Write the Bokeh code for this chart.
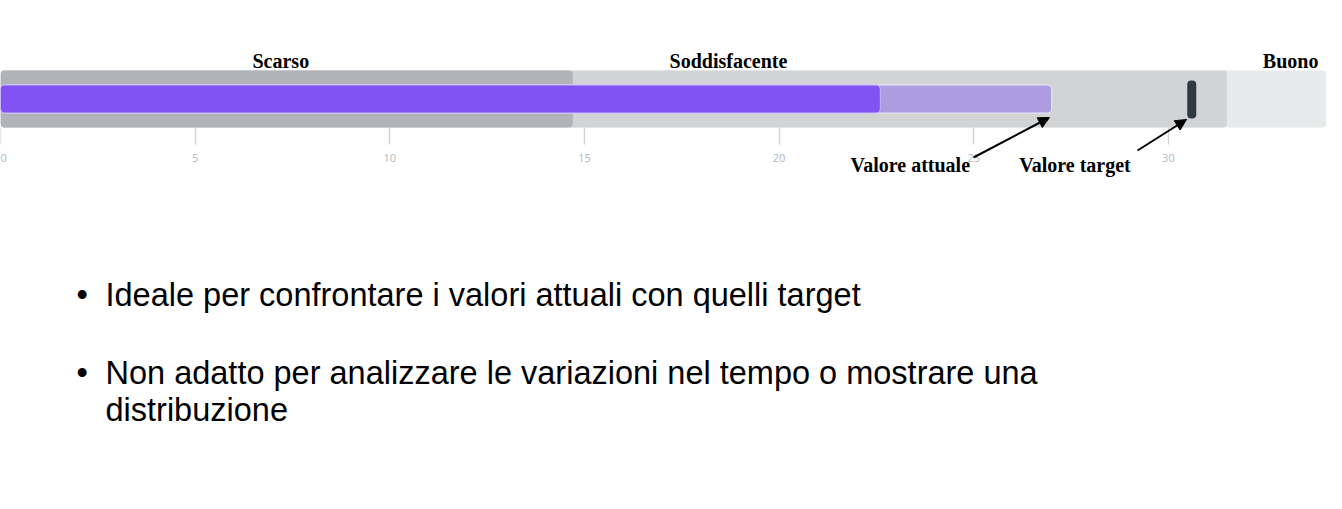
from bokeh.plotting import figure
from bokeh.models import Range1d, LinearAxis, FixedTicker, Arrow, NormalHead
from bokeh.core.properties import value
from bokeh.embed import file_html
from bokeh.resources import INLINE

# ---- data ----
band_names = ["Buono", "Soddisfacente", "Scarso"]
band_ends = [34.2, 31.5, 14.7]
projected_value = 27.0
current_value = 22.6
target_value = 30.6
tick_values = [0, 5, 10, 15, 20, 25, 30]
range_labels = ["Scarso", "Soddisfacente", "Buono"]
note_labels = ["Valore attuale", "Valore target"]
bullets = [
    "Ideale per confrontare i valori attuali con quelli target",
    "Non adatto per analizzare le variazioni nel tempo o mostrare una",
    "distribuzione",
]

# ---- layout constants ----
PX = 38.93          # pixels per unit in the reference
W, H = 1326, 493
band_colors = ["#e8e9ea", "#d1d3d5", "#b0b4b8"]

p = figure(width=W, height=H, output_backend="svg", toolbar_location=None,
           x_range=Range1d(0, W / PX), y_range=Range1d(H, 0),
           x_axis_location=None, y_axis_location=None, min_border=0,
           outline_line_color=None, background_fill_color="white")
for g in p.grid:
    g.visible = False

BAND_Y, BAND_H = 98.5, 57
BAR_Y, BAR_H = 98.5, 28

for end, col in zip(band_ends, band_colors):
    p.hbar(y=[BAND_Y], left=[0], right=[end], height=BAND_H, fill_color=col,
           line_color=None, border_radius=4)

p.hbar(y=[BAR_Y], left=[0], right=[projected_value], height=BAR_H,
       fill_color="#ae9ce1", line_color="#ece6fb", line_width=1, border_radius=4)
p.hbar(y=[BAR_Y], left=[0], right=[current_value], height=BAR_H,
       fill_color="#8053f2", line_color="#c9b8fa", line_width=1, border_radius=4)
p.rect(x=[target_value], y=[99], width=9, height=38, width_units="screen",
       fill_color="#2f3a40", line_color=None, border_radius=4)

axis = LinearAxis(ticker=FixedTicker(ticks=tick_values), fixed_location=127,
                  axis_line_color=None, major_tick_line_color="#d3d6d9",
                  major_tick_line_width=1.5, major_tick_in=0, major_tick_out=17,
                  minor_tick_line_color=None, major_label_standoff=9,
                  major_label_text_font="Open Sans", major_label_text_font_size="11px",
                  major_label_text_color="#b2b8bf")
p.add_layout(axis, "below")

serif = value("Liberation Serif")
range_x = [7.2, 18.7, 33.14]
p.text(x=range_x, y=[60, 60, 60], text=range_labels, text_font=serif,
       text_font_style="bold", text_font_size="20px", text_color="black",
       text_align="center", text_baseline="alphabetic")

note_x = [23.37, 27.6]
p.text(x=note_x, y=[164, 164], text=note_labels, text_font=serif,
       text_font_style="bold", text_font_size="20px", text_color="black",
       text_align="center", text_baseline="alphabetic")

head1 = NormalHead(size=11, fill_color="black", line_color="black")
head2 = NormalHead(size=11, fill_color="black", line_color="black")
p.add_layout(Arrow(end=head1, x_start=973 / PX, y_start=157, x_end=1049 / PX,
                   y_end=117, line_width=2, line_color="black"))
p.add_layout(Arrow(end=head2, x_start=1137 / PX, y_start=150, x_end=1186 / PX,
                   y_end=119, line_width=2, line_color="black"))

sans = value("Liberation Sans")
bullet_x = 105 / PX
bullet_y = [294, 372, 409]
p.text(x=[bullet_x] * 3, y=bullet_y, text=bullets, text_font=sans,
       text_font_size="32.5px", text_color="black", text_align="left",
       text_baseline="alphabetic")
p.text(x=[76 / PX] * 2, y=bullet_y[:2], text=["\u2022", "\u2022"], text_font=sans,
       text_font_size="32.5px", text_color="black", text_align="left",
       text_baseline="alphabetic")

open("out.html", "w").write(file_html(p, INLINE))
